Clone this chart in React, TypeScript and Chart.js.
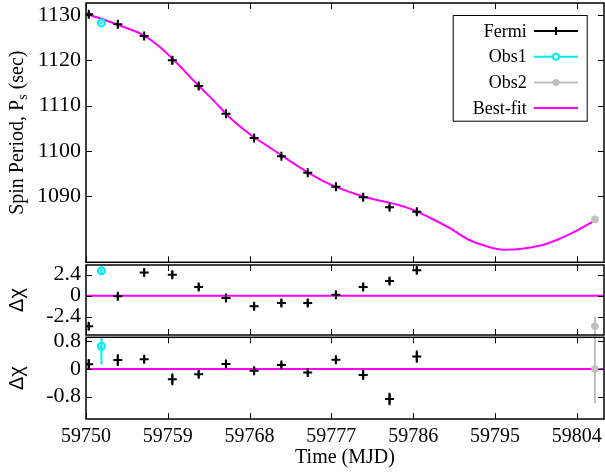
import React, { useEffect, useRef } from "react";
import { Chart, registerables } from "chart.js";
Chart.register(...registerables);

// ---------- data ----------
const xMin = 59750;
const xMax = 59807;
const xTicks = [59750, 59759, 59768, 59777, 59786, 59795, 59804];

const fermiMJD = [59750.3, 59753.5, 59756.4, 59759.5, 59762.4, 59765.4, 59768.5, 59771.5, 59774.4, 59777.5, 59780.5, 59783.4, 59786.4];
const fermiP = [1130.2, 1128.0, 1125.4, 1120.0, 1114.3, 1108.2, 1102.8, 1098.8, 1095.1, 1092.0, 1089.7, 1087.5, 1086.5];
const fermiPErr = [0.5, 0.5, 0.6, 0.9, 0.7, 0.6, 0.6, 0.5, 0.5, 0.5, 0.5, 0.5, 0.6];

const obs1MJD = [59751.7];
const obs1P = [1128.3];
const obs1PErr = [0.3];

const obs2MJD = [59806.0];
const obs2P = [1084.8];
const obs2PErr = [0.5];

const fitMJD = [59750, 59752, 59754, 59756, 59758, 59760, 59762, 59764, 59766, 59768, 59770, 59772, 59774, 59776, 59778, 59780, 59782, 59784, 59786, 59788, 59790, 59792, 59794, 59796, 59798, 59800, 59802, 59804, 59806];
const fitP = [1130.3, 1129.0, 1127.5, 1125.9, 1123.2, 1119.4, 1115.2, 1111.2, 1107.0, 1103.7, 1101.0, 1098.3, 1095.7, 1093.4, 1091.6, 1090.2, 1089.1, 1088.2, 1086.9, 1085.0, 1082.9, 1080.4, 1078.9, 1078.1, 1078.3, 1079.0, 1080.4, 1082.3, 1084.6];

// residuals, panel 2
const res1Fermi = [-3.5, -0.08, 2.63, 2.4, 0.98, -0.27, -1.22, -0.85, -0.85, 0.11, 0.98, 1.67, 2.89];
const res1FermiErr = [0.4, 0.4, 0.4, 0.4, 0.4, 0.4, 0.4, 0.4, 0.4, 0.4, 0.4, 0.4, 0.4];
const res1Obs1 = [2.83];
const res1Obs1Err = [0.45];
const res1Obs2 = [-3.5];
const res1Obs2Err = [1.1];

// residuals, panel 3
const res2Fermi = [0.14, 0.26, 0.28, -0.3, -0.15, 0.145, -0.05, 0.12, -0.1, 0.27, -0.17, -0.87, 0.36];
const res2FermiErr = [0.15, 0.17, 0.1, 0.17, 0.1, 0.1, 0.1, 0.08, 0.08, 0.1, 0.14, 0.18, 0.18];
const res2Obs1 = [0.66];
const res2Obs1Err = [0.53];
const res2Obs2 = [0.0];
const res2Obs2Err = [1.0];

const zeroMJD = [59750, 59807];
const zeroVal = [0, 0];

const pTicks = [1090, 1100, 1110, 1120, 1130];
const r1Ticks = [-2.4, 0, 2.4];
const r2Ticks = [-0.8, 0, 0.8];

// ---------- styles ----------
const BLACK = "#000000";
const CYAN = "#00eeee";
const GREY = "#c0c0c0";
const MAGENTA = "#ff00ff";
const SERIF = "'Liberation Serif', 'Times New Roman', serif";

const pts = (xs: number[], ys: number[]) => xs.map((x, i) => ({ x, y: ys[i] }));

// ---------- plugins ----------
const errorBarPlugin = {
  id: "errbars",
  afterDatasetsDraw(chart: any) {
    const { ctx, chartArea: a } = chart;
    ctx.save();
    ctx.beginPath();
    ctx.rect(a.left, a.top, a.right - a.left, a.bottom - a.top);
    ctx.clip();
    chart.data.datasets.forEach((ds: any, i: number) => {
      if (!ds.errY) return;
      const meta = chart.getDatasetMeta(i);
      const xs = chart.scales[meta.xAxisID];
      const ys = chart.scales[meta.yAxisID];
      ctx.strokeStyle = ds.borderColor;
      ctx.lineWidth = 2;
      ds.data.forEach((p: any, j: number) => {
        const e = ds.errY[j];
        const px = xs.getPixelForValue(p.x);
        ctx.beginPath();
        ctx.moveTo(px, ys.getPixelForValue(p.y - e));
        ctx.lineTo(px, ys.getPixelForValue(p.y + e));
        ctx.stroke();
      });
    });
    ctx.restore();
  },
};

const framePlugin = {
  id: "frame",
  afterDraw(chart: any, _args: any, opts: any) {
    const { ctx, chartArea: a } = chart;
    const xs = chart.scales.x;
    const ys = chart.scales.y;
    const L = 6;
    ctx.save();
    ctx.strokeStyle = BLACK;
    ctx.lineWidth = 1;
    ctx.beginPath();
    (opts.xTicks || []).forEach((v: number) => {
      const px = Math.round(xs.getPixelForValue(v)) + 0.5;
      ctx.moveTo(px, a.top);
      ctx.lineTo(px, a.top + L);
      ctx.moveTo(px, a.bottom);
      ctx.lineTo(px, a.bottom - L);
    });
    (opts.yTicks || []).forEach((v: number) => {
      const py = Math.round(ys.getPixelForValue(v)) + 0.5;
      ctx.moveTo(a.left, py);
      ctx.lineTo(a.left + L, py);
      ctx.moveTo(a.right, py);
      ctx.lineTo(a.right - L, py);
    });
    ctx.stroke();
    ctx.lineWidth = 1.5;
    ctx.strokeRect(a.left, a.top, a.right - a.left, a.bottom - a.top);

    // y-axis title (rotated)
    if (opts.title) {
      const cy = (a.top + a.bottom) / 2;
      ctx.translate(opts.titleX, cy);
      ctx.rotate(-Math.PI / 2);
      ctx.fillStyle = BLACK;
      ctx.textBaseline = "alphabetic";
      ctx.textAlign = "left";
      const parts: { t: string; font: string; dy: number }[] = opts.title;
      let total = 0;
      parts.forEach((p) => {
        ctx.font = p.font;
        total += ctx.measureText(p.t).width;
      });
      let x = -total / 2;
      parts.forEach((p) => {
        ctx.font = p.font;
        ctx.fillText(p.t, x, p.dy);
        x += ctx.measureText(p.t).width;
      });
    }
    ctx.restore();
  },
};

const legendPlugin = {
  id: "boxlegend",
  afterDraw(chart: any) {
    const { ctx, chartArea: a } = chart;
    const right = a.right - 17.3;
    const top = a.top + 12;
    const w = 134;
    const h = 105.7;
    ctx.save();
    ctx.fillStyle = "#ffffff";
    ctx.fillRect(right - w, top, w, h);
    ctx.strokeStyle = BLACK;
    ctx.lineWidth = 1;
    ctx.strokeRect(right - w + 0.5, top + 0.5, w, h);
    ctx.font = `18px ${SERIF}`;
    ctx.textAlign = "right";
    ctx.textBaseline = "middle";
    chart.data.datasets.forEach((ds: any, i: number) => {
      const y = top + 16 + i * 25.7;
      ctx.fillStyle = BLACK;
      ctx.fillText(ds.label, right - 60, y + 1);
      const x0 = right - 52.7;
      const x1 = right - 8.7;
      const xm = (x0 + x1) / 2;
      ctx.strokeStyle = ds.legendColor;
      ctx.lineWidth = 2;
      ctx.beginPath();
      ctx.moveTo(x0, y);
      ctx.lineTo(x1, y);
      ctx.stroke();
      if (ds.legendMarker === "cross") {
        ctx.beginPath();
        ctx.moveTo(xm, y - 4);
        ctx.lineTo(xm, y + 4);
        ctx.stroke();
      } else if (ds.legendMarker === "open") {
        ctx.beginPath();
        ctx.arc(xm, y, 3, 0, Math.PI * 2);
        ctx.fillStyle = "#ffffff";
        ctx.fill();
        ctx.stroke();
      } else if (ds.legendMarker === "filled") {
        ctx.beginPath();
        ctx.arc(xm, y, 3.5, 0, Math.PI * 2);
        ctx.fillStyle = ds.legendColor;
        ctx.fill();
      }
    });
    ctx.restore();
  },
};

// ---------- dataset builders ----------
const fermiDs = (ys: number[], err: number[]) => ({
  label: "Fermi",
  data: pts(fermiMJD, ys),
  errY: err,
  showLine: false,
  borderColor: BLACK,
  backgroundColor: BLACK,
  pointStyle: "cross",
  pointRadius: 4.5,
  pointBorderWidth: 2,
  legendColor: BLACK,
  legendMarker: "cross",
});
const obs1Ds = (ys: number[], err: number[]) => ({
  label: "Obs1",
  data: pts(obs1MJD, ys),
  errY: err,
  showLine: false,
  borderColor: CYAN,
  backgroundColor: "rgba(190,255,255,1)",
  pointStyle: "circle",
  pointRadius: 3.5,
  pointBorderWidth: 2,
  legendColor: CYAN,
  legendMarker: "open",
});
const obs2Ds = (ys: number[], err: number[]) => ({
  label: "Obs2",
  data: pts(obs2MJD, ys),
  errY: err,
  showLine: false,
  borderColor: GREY,
  backgroundColor: GREY,
  pointStyle: "circle",
  pointRadius: 3.5,
  pointBorderWidth: 1,
  legendColor: GREY,
  legendMarker: "filled",
});
const lineDs = (label: string, xs: number[], ys: number[], smooth: boolean) => ({
  label,
  data: pts(xs, ys),
  showLine: true,
  borderColor: MAGENTA,
  backgroundColor: MAGENTA,
  borderWidth: 2,
  pointRadius: 0,
  tension: smooth ? 0.4 : 0,
  cubicInterpolationMode: smooth ? "monotone" : "default",
  legendColor: MAGENTA,
  legendMarker: "none",
});

const xTickFont = { family: SERIF, size: 20 };
const yTickFont = { family: SERIF, size: 22 };

function zeroPad(s: any) {
  s.paddingTop = 0;
  s.paddingBottom = 0;
  s.paddingLeft = 0;
  s.paddingRight = 0;
}

function yScale(min: number, max: number, ticks: number[]) {
  return {
    type: "linear",
    min,
    max,
    grid: { display: false, drawTicks: false },
    border: { display: false },
    ticks: {
      font: yTickFont,
      color: BLACK,
      padding: 5,
      autoSkip: false,
      callback: (v: any) => String(v),
    },
    afterBuildTicks: (s: any) => {
      s.ticks = ticks.map((v) => ({ value: v }));
    },
    afterFit: (s: any) => {
      s.width = 86;
      zeroPad(s);
    },
  };
}

function xScale(show: boolean) {
  return {
    type: "linear",
    min: xMin,
    max: xMax,
    display: show,
    grid: { display: false, drawTicks: false },
    border: { display: false },
    ticks: {
      font: xTickFont,
      color: BLACK,
      padding: 6,
      maxRotation: 0,
      autoSkip: false,
      callback: (v: any) => String(v),
    },
    title: {
      display: show,
      text: "Time (MJD)",
      font: { family: SERIF, size: 20 },
      color: BLACK,
      padding: { top: 0, bottom: 4 },
    },
    afterBuildTicks: (s: any) => {
      s.ticks = xTicks.map((v) => ({ value: v }));
    },
    afterFit: (s: any) => {
      s.height = show ? 55 : 0;
      zeroPad(s);
    },
  };
}

const deltaChiTitle = [{ t: "\u0394\u03c7", font: `20px 'Liberation Sans', 'DejaVu Sans', sans-serif`, dy: 6 }];

function makeConfig(kind: number): any {
  const common = {
    responsive: false,
    animation: false,
    events: [],
  };
  if (kind === 0) {
    return {
      type: "scatter",
      data: {
        datasets: [
          fermiDs(fermiP, fermiPErr),
          obs1Ds(obs1P, obs1PErr),
          obs2Ds(obs2P, obs2PErr),
          lineDs("Best-fit", fitMJD, fitP, true),
        ],
      },
      options: {
        ...common,
        layout: { autoPadding: false, padding: { top: 3, bottom: 1.7, left: 0, right: 1 } },
        scales: { x: xScale(false), y: yScale(1075.3, 1132.7, pTicks) },
        plugins: {
          legend: { display: false },
          tooltip: { enabled: false },
          frame: {
            xTicks,
            yTicks: pTicks,
            titleX: 17,
            title: [
              { t: "Spin Period, P", font: `20px ${SERIF}`, dy: 6 },
              { t: "s", font: `14px ${SERIF}`, dy: 10 },
              { t: " (sec)", font: `20px ${SERIF}`, dy: 6 },
            ],
          },
        },
      },
      plugins: [errorBarPlugin, framePlugin, legendPlugin],
    };
  }
  if (kind === 1) {
    return {
      type: "scatter",
      data: {
        datasets: [
          fermiDs(res1Fermi, res1FermiErr),
          obs1Ds(res1Obs1, res1Obs1Err),
          obs2Ds(res1Obs2, res1Obs2Err),
          lineDs("zero", zeroMJD, zeroVal, false),
        ],
      },
      options: {
        ...common,
        layout: { autoPadding: false, padding: { top: 11, bottom: 1, left: 0, right: 1 } },
        scales: { x: xScale(false), y: yScale(-4.5, 3.5, r1Ticks) },
        plugins: {
          legend: { display: false },
          tooltip: { enabled: false },
          frame: { xTicks, yTicks: r1Ticks, titleX: 17, title: deltaChiTitle },
        },
      },
      plugins: [errorBarPlugin, framePlugin],
    };
  }
  return {
    type: "scatter",
    data: {
      datasets: [
        fermiDs(res2Fermi, res2FermiErr),
        obs1Ds(res2Obs1, res2Obs1Err),
        obs2Ds(res2Obs2, res2Obs2Err),
        lineDs("zero", zeroMJD, zeroVal, false),
      ],
    },
    options: {
      ...common,
      layout: { autoPadding: false, padding: { top: 11.3, bottom: 0, left: 0, right: 1 } },
      scales: { x: xScale(true), y: yScale(-1.45, 0.92, r2Ticks) },
      plugins: {
        legend: { display: false },
        tooltip: { enabled: false },
        frame: { xTicks, yTicks: r2Ticks, titleX: 17, title: deltaChiTitle },
      },
    },
    plugins: [errorBarPlugin, framePlugin],
  };
}

function Panel({ kind, top, height }: { kind: number; top: number; height: number }) {
  const ref = useRef<HTMLCanvasElement | null>(null);
  useEffect(() => {
    if (!ref.current) return;
    const chart = new Chart(ref.current, makeConfig(kind));
    return () => chart.destroy();
  }, [kind]);
  return (
    <canvas
      ref={ref}
      width={605}
      height={height}
      style={{ position: "absolute", left: 0, top, width: 605, height, display: "block" }}
    />
  );
}

export default function App() {
  return (
    <div style={{ position: "absolute", left: 0, top: 0, width: 605, height: 474, background: "#fff" }}>
      <Panel kind={0} top={0} height={264} />
      <Panel kind={1} top={254} height={82} />
      <Panel kind={2} top={326} height={148} />
    </div>
  );
}
